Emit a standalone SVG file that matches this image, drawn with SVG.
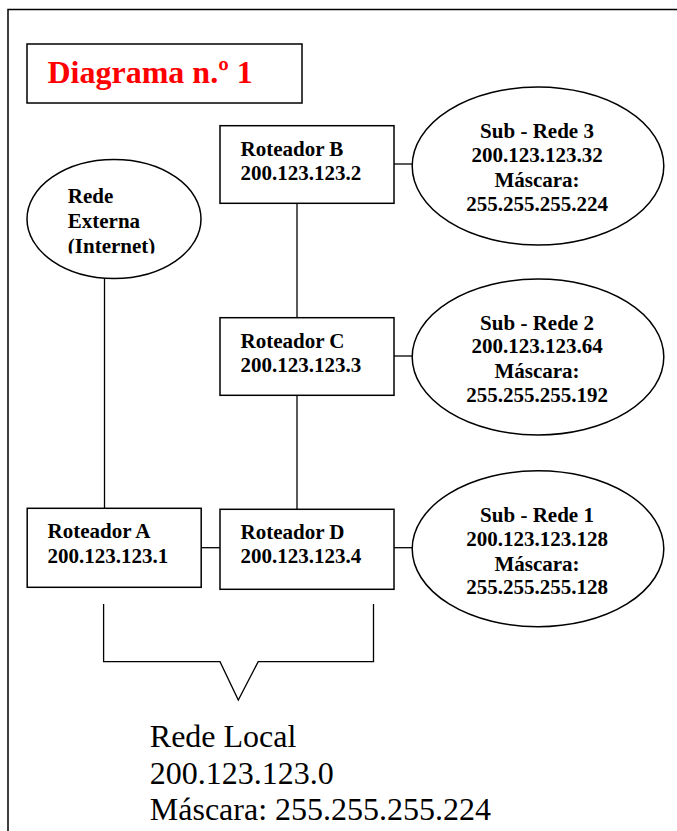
<svg xmlns="http://www.w3.org/2000/svg" width="677" height="831" viewBox="0 0 677 831">
<defs>
<style>
.box{fill:#fff;stroke:#000;stroke-width:1.5}
.ln{fill:none;stroke:#000;stroke-width:1.3}
.b{font-family:"Liberation Serif","Times New Roman",serif;font-weight:bold;font-size:21px;fill:#000}
.c{text-anchor:middle}
.n{font-family:"Liberation Serif","Times New Roman",serif;font-size:32px;fill:#000}
</style>
<clipPath id="clipExt"><rect x="27" y="180" width="175" height="73.5"/></clipPath>
</defs>
<rect x="0" y="0" width="677" height="831" fill="#fff"/>
<rect x="8" y="9.5" width="720" height="900" fill="none" stroke="#000" stroke-width="1.5"/>

<g id="title">
<rect class="box" x="27" y="44" width="275" height="59"/>
<text x="47.5" y="83" font-family="'Liberation Serif','Times New Roman',serif" font-weight="bold" font-size="32" fill="#ff0000">Diagrama n.º 1</text>
</g>

<g id="connectors">
<line class="ln" x1="104.5" y1="278" x2="104.5" y2="508.5"/>
<line class="ln" x1="297" y1="203.5" x2="297" y2="318"/>
<line class="ln" x1="297" y1="395.5" x2="297" y2="509.5"/>
<line class="ln" x1="394" y1="164" x2="412" y2="164"/>
<line class="ln" x1="394" y1="356" x2="412" y2="356"/>
<line class="ln" x1="201" y1="547.7" x2="220" y2="547.7"/>
<line class="ln" x1="394" y1="547.7" x2="412" y2="547.7"/>
</g>

<g id="rede-externa">
<ellipse class="box" cx="114" cy="219" rx="87" ry="59.5"/>
<g clip-path="url(#clipExt)">
<text class="b" x="67.8" y="203.3">Rede</text>
<text class="b" x="67.8" y="228.3">Externa</text>
<text class="b" x="67.8" y="252.5">(Internet)</text>
</g>
</g>

<g id="roteador-b">
<rect class="box" x="220" y="125.7" width="174" height="77.6"/>
<text class="b" x="240.5" y="156">Roteador B</text>
<text class="b" x="240.5" y="180">200.123.123.2</text>
</g>

<g id="sub-rede-3">
<ellipse class="box" cx="538" cy="166" rx="125.8" ry="79"/>
<text class="b c" x="537" y="137.7">Sub - Rede 3</text>
<text class="b c" x="537" y="161.7">200.123.123.32</text>
<text class="b c" x="537" y="186.7">Máscara:</text>
<text class="b c" x="537" y="210.7">255.255.255.224</text>
</g>

<g id="roteador-c">
<rect class="box" x="220" y="317.7" width="174" height="77.6"/>
<text class="b" x="240.5" y="348.3">Roteador C</text>
<text class="b" x="240.5" y="371.7">200.123.123.3</text>
</g>

<g id="sub-rede-2">
<ellipse class="box" cx="538" cy="357" rx="125.8" ry="78"/>
<text class="b c" x="537" y="330">Sub - Rede 2</text>
<text class="b c" x="537" y="353.3">200.123.123.64</text>
<text class="b c" x="537" y="378.3">Máscara:</text>
<text class="b c" x="537" y="401.7">255.255.255.192</text>
</g>

<g id="roteador-a">
<rect class="box" x="27.2" y="508.3" width="174" height="79"/>
<text class="b" x="47.5" y="538.3">Roteador A</text>
<text class="b" x="47.5" y="562.7">200.123.123.1</text>
</g>

<g id="roteador-d">
<rect class="box" x="220" y="509.3" width="174" height="80"/>
<text class="b" x="240.5" y="539.3">Roteador D</text>
<text class="b" x="240.5" y="562.7">200.123.123.4</text>
</g>

<g id="sub-rede-1">
<ellipse class="box" cx="538" cy="548.8" rx="125.8" ry="78"/>
<text class="b c" x="537" y="521.7">Sub - Rede 1</text>
<text class="b c" x="537" y="545.7">200.123.123.128</text>
<text class="b c" x="537" y="570.7">Máscara:</text>
<text class="b c" x="537" y="594">255.255.255.128</text>
</g>

<g id="rede-local">
<path class="ln" d="M103.6,604 V661.7 H220 L238.3,700 L258.2,661.7 H373.5 V604"/>
<text class="n" x="149.8" y="746.7">Rede Local</text>
<text class="n" x="149.8" y="784">200.123.123.0</text>
<text class="n" x="149.8" y="820">Máscara: 255.255.255.224</text>
</g>
</svg>
